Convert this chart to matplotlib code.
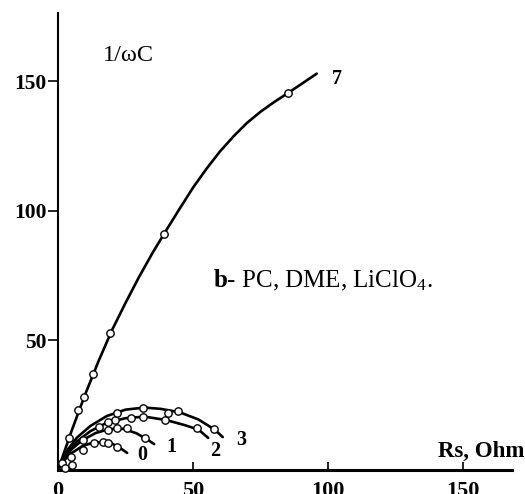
import matplotlib
matplotlib.use("Agg")
import matplotlib.pyplot as plt

plt.rcParams['font.family'] = ['Liberation Serif', 'DejaVu Serif']
plt.rcParams['mathtext.fontset'] = 'custom'
plt.rcParams['mathtext.rm'] = 'Liberation Serif'
plt.rcParams['mathtext.it'] = 'Liberation Serif:italic'
plt.rcParams['mathtext.bf'] = 'Liberation Serif:bold'

# curve lines
c7_x = [0, 5, 10, 15, 20, 25, 30, 35, 40, 45, 50, 55, 60, 65, 70, 75, 80, 85, 90, 95.8]
c7_y = [0, 15, 29, 42, 54, 64.5, 74.5, 83.8, 92.4, 100.8, 109, 116.3, 123, 128.8, 134, 138.3, 142, 145.4, 148.9, 153]
c0_x = [0, 2, 5, 9, 13, 17, 20, 23, 25.6]
c0_y = [0, 3.5, 6.5, 9.2, 10.6, 10.8, 10.2, 8.5, 6.6]
c1_x = [0, 2, 5, 9, 14, 19, 24, 29, 33, 35.6]
c1_y = [0, 4, 8, 11.5, 14.3, 15.8, 15.9, 14.2, 11.8, 10]
c2_x = [0, 3, 7, 12, 18, 25, 32, 40, 47, 52, 55.6]
c2_y = [0, 6, 11, 15, 18.2, 20, 20.6, 19.3, 17.3, 15.6, 12.4]
c3_x = [0, 3, 7, 12, 18, 25, 32, 38, 45, 52, 58, 61]
c3_y = [0, 7, 12.5, 17, 20.8, 23.3, 24.1, 23.6, 22.3, 19.5, 15.6, 12.7]

# measured points
p7_x = [1.6, 4, 7.5, 9.7, 12.8, 19.3, 39.3, 85.1]
p7_y = [2.7, 12.4, 23, 28.3, 37, 52.9, 91.1, 145.4]
p0_x = [4.8, 9.4, 13.5, 16.7, 18.6, 21.7]
p0_y = [5.2, 7.7, 10.4, 10.9, 10.4, 9.0]
p1_x = [2.6, 5, 9.4, 18.6, 21.7, 25.4, 32.2]
p1_y = [0.6, 2.0, 11.6, 15.4, 16.2, 16.2, 12.4]
p2_x = [15, 21, 27, 31.6, 39.6, 51.6]
p2_y = [16.7, 19.3, 20, 20.6, 19.3, 16.2]
p3_x = [18.6, 21.7, 31.6, 40.9, 44.6, 57.8]
p3_y = [18.7, 22, 24, 22, 22.8, 15.8]

curve_labels = ['7', '0', '1', '2', '3']
label_x = [101.5, 29.3, 40.3, 56.5, 65.8]
label_y = [151, 5.8, 8.9, 7.5, 11.6]

x_ticks = [0, 50, 100, 150]
y_ticks = [50, 100, 150]

fig = plt.figure(figsize=(5.25, 4.94), dpi=100)
ax = fig.add_axes([58/525, 24/494, (512-58)/525, (470-13)/494])
ax.set_xlim(0, 168.1)
ax.set_ylim(0, 176.4)

lw = 1.9
for lx, ly in [(c7_x, c7_y), (c0_x, c0_y), (c1_x, c1_y), (c2_x, c2_y), (c3_x, c3_y)]:
    ax.plot(lx, ly, color='black', lw=lw, solid_capstyle='round',
            solid_joinstyle='round', zorder=2)
for px, py in [(p7_x, p7_y), (p0_x, p0_y), (p1_x, p1_y), (p2_x, p2_y), (p3_x, p3_y)]:
    ax.plot(px, py, 'o', ms=5.3, mfc='white', mec='black', mew=1.0, zorder=3, clip_on=False)

for t, x, y in zip(curve_labels, label_x, label_y):
    ax.text(x, y, t, fontsize=14.5, fontweight='bold', ha='left', va='center')

ax.text(16.7, 158, '1/\u03c9C', fontsize=17.5, ha='left', va='baseline')
ax.text(57.4, 70.5, r'$\mathbf{b}$- PC, DME, LiClO$_4$.', fontsize=18, ha='left', va='baseline')
ax.text(172.5, 5, 'Rs, Ohm', fontsize=16.5, fontweight='bold', ha='right', va='baseline',
        clip_on=False)

for s in ['top', 'right']:
    ax.spines[s].set_visible(False)
ax.spines['left'].set_linewidth(1.5)
ax.spines['bottom'].set_linewidth(2.2)

ax.set_xticks(x_ticks)
ax.set_xticklabels([str(v) for v in x_ticks], fontsize=16, fontweight='bold')
ax.set_yticks(y_ticks)
ax.set_yticklabels([str(v) for v in y_ticks], fontsize=15.5, fontweight='bold')
ax.tick_params(axis='x', direction='in', length=6, width=1.2, pad=8)
ax.tick_params(axis='y', direction='out', length=7, width=1.2, pad=1)

fig.savefig('out.png', dpi=100)
